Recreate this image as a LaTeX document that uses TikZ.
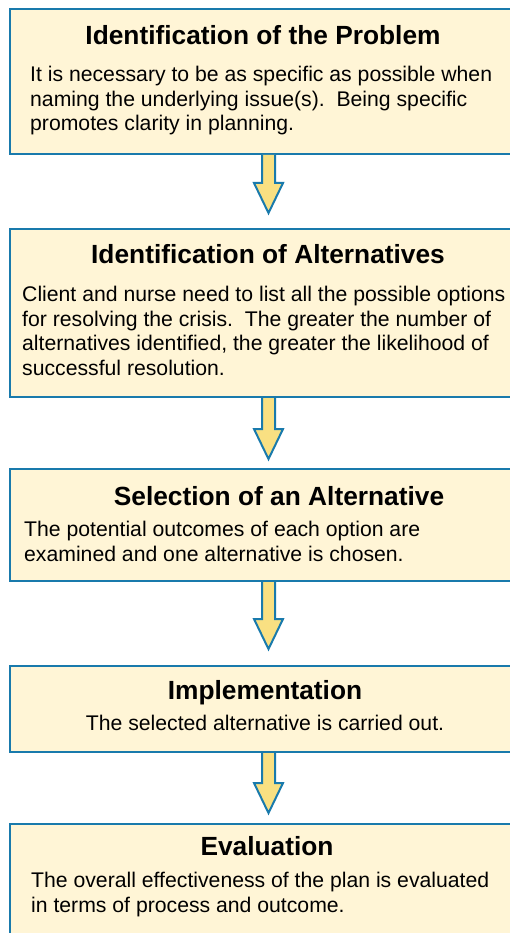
\documentclass[tikz,border=0pt]{standalone}
\usepackage{fontspec}
\setmainfont{Liberation Sans}
\definecolor{boxblue}{RGB}{25,122,172}
\definecolor{boxfill}{RGB}{255,245,214}
\definecolor{arrowfill}{RGB}{249,224,130}
\newcommand{\flowarrow}[2]{%
  \draw[fatarrow] ([xshift=-6.5pt,yshift=-1pt]#1.south)
    -- ([xshift=-6.5pt,yshift=30pt]#2) -- ([xshift=-14.5pt,yshift=30pt]#2)
    -- (#2)
    -- ([xshift=14.5pt,yshift=30pt]#2) -- ([xshift=6.5pt,yshift=30pt]#2)
    -- ([xshift=6.5pt,yshift=-1pt]#1.south);}
\begin{document}
\begin{tikzpicture}[x=1pt,y=-1pt,
  stagebox/.style={draw=boxblue, fill=boxfill, line width=2pt, rectangle,
    minimum width=518pt, outer sep=0pt, inner sep=0pt, anchor=north west},
  fatarrow/.style={draw=boxblue, fill=arrowfill, line width=2pt, line join=miter},
  title/.style={font=\fontsize{26.3}{30}\selectfont\bfseries, anchor=base, inner sep=0pt},
  body/.style={font=\fontsize{21.2}{24.5}\selectfont, anchor=base west, align=left, inner sep=0pt},
  bodyc/.style={font=\fontsize{21.2}{24.5}\selectfont, anchor=base, inner sep=0pt}]
\clip (0,0) rectangle (510,933);
\fill[white] (0,0) rectangle (510,933);
% boxes
\node[stagebox, minimum height=145pt] (b1) at (9.5,9) {};
\node[stagebox, minimum height=168pt] (b2) at (9.5,229) {};
\node[stagebox, minimum height=112pt] (b3) at (9.5,469) {};
\node[stagebox, minimum height=86pt] (b4) at (9.5,666) {};
\node[stagebox, minimum height=140pt] (b5) at (9.5,824) {};
% arrow tips
\coordinate (t1) at ([yshift=16pt]b2.north);
\coordinate (t2) at ([yshift=10pt]b3.north);
\coordinate (t3) at ([yshift=17pt]b4.north);
\coordinate (t4) at ([yshift=11pt]b5.north);
\flowarrow{b1}{t1}
\flowarrow{b2}{t2}
\flowarrow{b3}{t3}
\flowarrow{b4}{t4}
% texts (body anchors sit on the last line's baseline)
\node[title] (h1) at (263,45) {Identification of the Problem};
\node[body] (p1) at (30,131) {It is necessary to be as specific as possible when\\naming the underlying issue(s).~~Being specific\\promotes clarity in planning.};
\node[title] (h2) at (268,263) {Identification of Alternatives};
\node[body] (p2) at (22,375) {Client and nurse need to list all the possible options\\for resolving the crisis.~~The greater the number of\\alternatives identified, the greater the likelihood of\\successful resolution.};
\node[title] (h3) at (279,505) {Selection of an Alternative};
\node[body] (p3) at (24,561) {The potential outcomes of each option are\\examined and one alternative is chosen.};
\node[title] (h4) at (265,699) {Implementation};
\node[bodyc] (p4) at (265,730) {The selected alternative is carried out.};
\node[title] (h5) at (267,855) {Evaluation};
\node[body] (p5) at (31,912) {The overall effectiveness of the plan is evaluated\\in terms of process and outcome.};
\end{tikzpicture}
\end{document}
